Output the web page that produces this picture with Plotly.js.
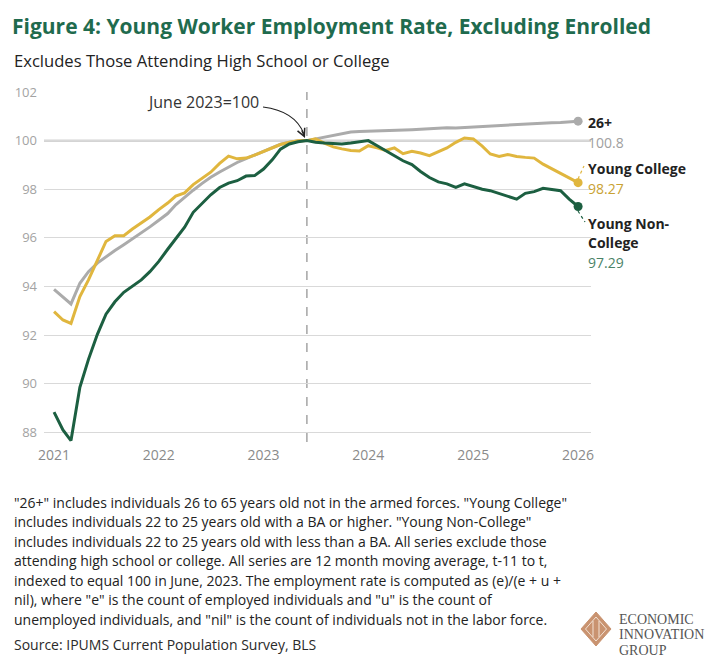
<!DOCTYPE html>
<html>
<head>
<meta charset="utf-8">
<script src="https://cdn.plot.ly/plotly-3.0.1.min.js"></script>
<style>
  body { margin: 0; background: #fff; }
  #chart { width: 720px; height: 666px; }
</style>
</head>
<body>
<div id="chart"></div>
<script>
// monthly, Jan 2021 .. Jan 2026
const months = []
for (let y = 2021; y <= 2026; y++) {
    for (let m = 1; m <= 12; m++) {
        if (y === 2026 && m > 1) break
        months.push(`${y}-${String(m).padStart(2, '0')}-01`)
    }
}

const older26 = [93.88, 93.58, 93.28, 94.13, 94.61, 94.96, 95.23, 95.48, 95.72, 95.95,
    96.2, 96.45, 96.72, 97.0, 97.36, 97.67, 97.96, 98.24, 98.49, 98.71,
    98.92, 99.1, 99.26, 99.4, 99.55, 99.71, 99.85, 99.93, 99.98, 100.0,
    100.07, 100.14, 100.22, 100.29, 100.35, 100.37, 100.38, 100.39, 100.41, 100.42,
    100.44, 100.45, 100.47, 100.49, 100.52, 100.53, 100.52, 100.54, 100.57, 100.6,
    100.62, 100.63, 100.66, 100.68, 100.7, 100.71, 100.72, 100.74, 100.75, 100.77, 100.8]

const youngCollege = [92.96, 92.62, 92.48, 93.58, 94.27, 95.1, 95.85, 96.09, 96.09, 96.36,
    96.61, 96.86, 97.16, 97.43, 97.72, 97.85, 98.19, 98.45, 98.7, 99.06,
    99.36, 99.25, 99.28, 99.4, 99.55, 99.7, 99.84, 99.93, 99.99, 100.0,
    100.07, 99.9, 99.74, 99.66, 99.59, 99.57, 99.79, 99.7, 99.6, 99.7,
    99.46, 99.56, 99.49, 99.38, 99.56, 99.7, 99.93, 100.11, 100.07, 99.77,
    99.45, 99.35, 99.43, 99.35, 99.31, 99.28, 99.03, 98.84, 98.63, 98.45, 98.27]

const youngNonCollege = [88.83, 88.1, 87.66, 89.85, 91.0, 92.03, 92.86, 93.37, 93.76, 94.0,
    94.27, 94.61, 95.03, 95.53, 95.98, 96.44, 97.05, 97.42, 97.77, 98.07,
    98.25, 98.35, 98.54, 98.56, 98.83, 99.22, 99.65, 99.86, 99.95, 100.0,
    99.93, 99.9, 99.88, 99.86, 99.9, 99.94, 100.0, 99.79, 99.6, 99.39,
    99.17, 99.01, 98.73, 98.48, 98.3, 98.22, 98.08, 98.22, 98.11, 98.0,
    97.94, 97.83, 97.72, 97.59, 97.83, 97.9, 98.04, 98.0, 97.94, 97.59, 97.29]

const yTicks = [88, 90, 92, 94, 96, 98, 100, 102]
const xTicks = ['2021-01-01', '2022-01-01', '2023-01-01', '2024-01-01', '2025-01-01', '2026-01-01']
const xTickLabels = ['2021', '2022', '2023', '2024', '2025', '2026']
const baseMonth = '2023-06-01'

const footnote = [
    '"26+" includes individuals 26 to 65 years old not in the armed forces. "Young College"',
    'includes individuals 22 to 25 years old with a BA or higher. "Young Non-College"',
    'includes individuals 22 to 25 years old with less than a BA. All series exclude those',
    'attending high school or college. All series are 12 month moving average, t-11 to t,',
    'indexed to equal 100 in June, 2023. The employment rate is computed as (e)/(e + u +',
    'nil), where "e" is the count of employed individuals and "u" is the count of',
    'unemployed individuals, and "nil" is the count of individuals not in the labor force.',
]
const source = 'Source: IPUMS Current Population Survey, BLS'

const GRAY = '#ababab', GOLD = '#e0b63e', GREEN = '#1c5f41'
const FONT = 'Open Sans, sans-serif'

const series = [
    {name: '26+', y: older26, color: GRAY},
    {name: 'Young College', y: youngCollege, color: GOLD},
    {name: 'Young Non-College', y: youngNonCollege, color: GREEN},
]

const data = []
series.forEach(s => {
    data.push({
        x: months, y: s.y, name: s.name, mode: 'lines',
        line: {color: s.color, width: 3}, hoverinfo: 'skip',
    })
})
series.forEach(s => {
    const last = s.y.length - 1
    data.push({
        x: [months[last]], y: [s.y[last]], mode: 'markers',
        marker: {color: s.color, size: 9}, hoverinfo: 'skip',
    })
})

// plot box in pixels, for paper placement of notes
const L = 44, T = 92, W = 547, H = 350
const px = X => (X - L) / W
const py = Y => (T + H - Y) / H

const annotations = []
function note(text, X, Y, opts) {
    annotations.push(Object.assign({
        text: text, xref: 'paper', yref: 'paper', x: px(X), y: py(Y),
        xanchor: 'left', yanchor: 'middle', showarrow: false,
        font: {family: FONT, size: 14, color: '#222'},
    }, opts || {}))
}

// end labels
note('<b>26+</b>', 586, 122.5)
note('100.8', 586, 142.5, {font: {family: FONT, size: 14, color: '#a0a0a0'}})
note('<b>Young College</b>', 586, 168.3)
note(String(youngCollege[youngCollege.length - 1]), 586, 188.3, {font: {family: FONT, size: 14, color: '#c9a233'}})
note('<b>Young Non-</b>', 586, 223.3)
note('<b>College</b>', 586, 242.3)
note(String(youngNonCollege[youngNonCollege.length - 1]), 586, 262.5, {font: {family: FONT, size: 14, color: '#4b8367'}})

// base annotation
note('June 2023=100', 145, 102, {font: {family: FONT, size: 16, color: '#333'}})
annotations.push({
    text: '', xref: 'paper', yref: 'paper', x: px(305), y: py(138),
    ax: -4, ay: -9, showarrow: true, arrowhead: 5, arrowsize: 1.4,
    arrowwidth: 1.1, arrowcolor: '#222',
})

// subtitle and footnotes
note('Excludes Those Attending High School or College', 12, 60, {font: {family: FONT, size: 16.6, color: '#222'}})
const noteY = [502, 521.5, 541, 560.5, 580, 599.5, 619]
footnote.forEach((line, i) => note(line, 12, noteY[i]))
note(source, 12, 644, {font: {family: FONT, size: 14, color: '#2a2a2a'}})

// logo text
const SERIF = 'Liberation Serif, DejaVu Serif, serif'
;['ECONOMIC', 'INNOVATION', 'GROUP'].forEach((w, i) => {
    note(w, 617, 619 + i * 15.5, {font: {family: SERIF, size: 14, color: '#555'}})
})

const shapes = [
    {type: 'line', xref: 'paper', yref: 'y', x0: 0, x1: 1, y0: 100, y1: 100,
     line: {color: '#a9a9a9', width: 1.6}, layer: 'below'},
    {type: 'line', xref: 'x', yref: 'paper', x0: baseMonth, x1: baseMonth, y0: 0, y1: 1,
     line: {color: '#aaaaaa', width: 1.6, dash: 'dash'}, layer: 'below'},
    // curved pointer to the base month
    {type: 'path', xref: 'paper', yref: 'paper',
     path: `M${px(263)},${py(107)} Q${px(295)},${py(111)} ${px(304)},${py(134)}`,
     line: {color: '#222', width: 1.1}},
    // dotted leaders from end dots to labels
    {type: 'line', xref: 'paper', yref: 'paper', x0: px(578), y0: py(179), x1: px(584), y1: py(166),
     line: {color: GOLD, width: 1.2, dash: 'dot'}},
    {type: 'line', xref: 'paper', yref: 'paper', x0: px(578), y0: py(211), x1: px(585), y1: py(222),
     line: {color: GREEN, width: 1.2, dash: 'dot'}},
    // logo diamond
    {type: 'path', xref: 'paper', yref: 'paper',
     path: `M${px(596)},${py(612)} L${px(611)},${py(629)} L${px(596)},${py(646)} L${px(581)},${py(629)} Z`,
     fillcolor: '#c99370', line: {color: '#c99370', width: 1}},
    {type: 'path', xref: 'paper', yref: 'paper',
     path: `M${px(596)},${py(617)} L${px(606.5)},${py(629)} L${px(596)},${py(641)} L${px(585.5)},${py(629)} Z`,
     line: {color: '#f3e2d4', width: 1}},
    {type: 'line', xref: 'paper', yref: 'paper', x0: px(593), y0: py(621), x1: px(593), y1: py(637),
     line: {color: '#f3e2d4', width: 1}},
    {type: 'line', xref: 'paper', yref: 'paper', x0: px(599), y0: py(621), x1: px(599), y1: py(637),
     line: {color: '#f3e2d4', width: 1}},
]

const layout = {
    width: 720, height: 666,
    margin: {l: L, r: 720 - L - W, t: T, b: 666 - T - H},
    paper_bgcolor: '#fff', plot_bgcolor: '#fff',
    showlegend: false,
    font: {family: FONT, color: '#222'},
    title: {
        text: '<b>Figure 4: Young Worker Employment Rate, Excluding Enrolled</b>',
        xref: 'container', yref: 'container', x: 12 / 720, y: 1 - 27 / 666,
        xanchor: 'left', yanchor: 'middle',
        font: {family: FONT, size: 21, color: '#1f6b4e'},
    },
    xaxis: {
        type: 'date', range: ['2020-11-27', '2026-02-15'],
        tickvals: xTicks, ticktext: xTickLabels,
        showgrid: false, zeroline: false, showline: false, ticks: '',
        ticklabelstandoff: 3,
        tickfont: {family: FONT, size: 14, color: '#8a8a8a'},
        fixedrange: true,
    },
    yaxis: {
        range: [87.6, 102], tickvals: yTicks,
        showgrid: true, gridcolor: '#d9d9d9', gridwidth: 1,
        zeroline: false, showline: false, ticks: '',
        ticklabelstandoff: 6,
        tickfont: {family: FONT, size: 13, color: '#a3a3a3'},
        fixedrange: true,
    },
    shapes: shapes,
    annotations: annotations,
}

Plotly.newPlot('chart', data, layout, {displayModeBar: false, staticPlot: true})
</script>
</body>
</html>
